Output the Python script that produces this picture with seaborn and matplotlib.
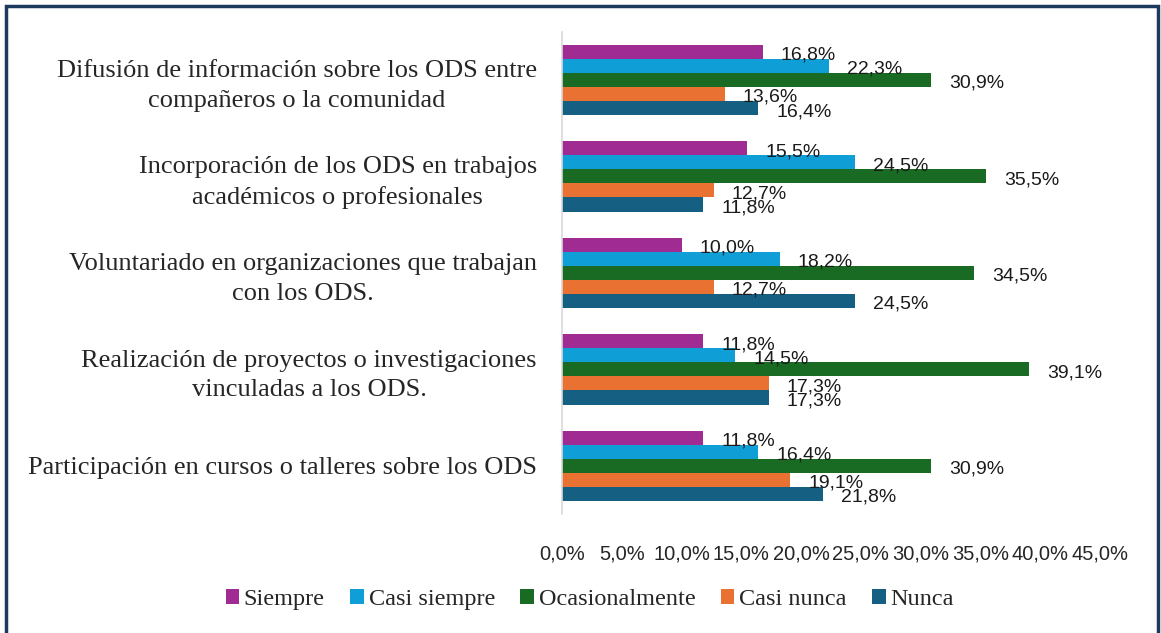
import pandas as pd
import seaborn as sns
import matplotlib.pyplot as plt
from matplotlib.patches import Rectangle
from matplotlib.ticker import FuncFormatter

categories = [
    "Difusión de información sobre los ODS entre\ncompañeros o la comunidad",
    "Incorporación de los ODS en trabajos\nacadémicos o profesionales",
    "Voluntariado en organizaciones que trabajan\ncon los ODS.",
    "Realización de proyectos o investigaciones\nvinculadas a los ODS.",
    "Participación en cursos o talleres sobre los ODS",
]
series = ["Siempre", "Casi siempre", "Ocasionalmente", "Casi nunca", "Nunca"]
siempre = [16.8, 15.5, 10.0, 11.8, 11.8]
casi_siempre = [22.3, 24.5, 18.2, 14.5, 16.4]
ocasionalmente = [30.9, 35.5, 34.5, 39.1, 30.9]
casi_nunca = [13.6, 12.7, 12.7, 17.3, 19.1]
nunca = [16.4, 11.8, 24.5, 17.3, 21.8]
colors = ["#A02B93", "#0F9ED5", "#196B24", "#E97132", "#156082"]

values = [siempre, casi_siempre, ocasionalmente, casi_nunca, nunca]
rows = []
for s, vals in zip(series, values):
    for c, v in zip(categories, vals):
        rows.append({"cat": c, "serie": s, "val": v})
df = pd.DataFrame(rows)


def pct(v):
    return f"{v:.1f}%".replace(".", ",")


sns.set_style("white")
fig = plt.figure(figsize=(11.61, 6.33), dpi=100)
ax = fig.add_axes([0.484, 0.188, 0.4635, 0.762])

sns.barplot(data=df, x="val", y="cat", hue="serie", order=categories,
            hue_order=series, palette=colors, orient="h", width=0.73,
            saturation=1, linewidth=0, ax=ax, legend=True)

# data labels, a bit right of the bar end and slightly lower
for cont in ax.containers:
    for bar, v in zip(cont, cont.datavalues):
        ax.annotate(pct(v), (bar.get_x() + bar.get_width(), bar.get_y() + bar.get_height() / 2),
                    xytext=(13, -2.5), textcoords="offset points", ha="left", va="center",
                    fontsize=14, family="Liberation Sans", color="#1a1a1a")

ax.set_xlim(0, 45)
ax.set_xticks([0, 5, 10, 15, 20, 25, 30, 35, 40, 45])
ax.xaxis.set_major_formatter(FuncFormatter(lambda v, p: pct(v)))
for t in ax.get_xticklabels():
    t.set_family("Liberation Sans")
    t.set_fontsize(14.5)
ax.tick_params(axis="x", length=0, pad=22)
ax.tick_params(axis="y", length=0, pad=18)
for t in ax.get_yticklabels():
    t.set_family("Liberation Serif")
    t.set_fontsize(19)
    t.set_linespacing(1.45)
    t.set_multialignment("center")
ax.set_xlabel("")
ax.set_ylabel("")
for s in ["top", "right", "bottom"]:
    ax.spines[s].set_visible(False)
ax.spines["left"].set_color("#D9D9D9")
ax.spines["left"].set_linewidth(1.2)

handles, labs = ax.get_legend_handles_labels()
ax.get_legend().remove()
fig.legend(handles, labs, loc="center", bbox_to_anchor=(0.508, 0.053), ncol=5,
           frameon=False, handlelength=0.55, handleheight=0.55, handletextpad=0.2,
           columnspacing=1.05, prop={"family": "Liberation Serif", "size": 17.5})

fig.patches.append(Rectangle((6 / 1161, -0.05), 1152 / 1161, 1 - 6 / 633 + 0.05,
                             transform=fig.transFigure, fill=False,
                             edgecolor="#1B3A5E", linewidth=2.5))

fig.savefig("out.png", dpi=100)
